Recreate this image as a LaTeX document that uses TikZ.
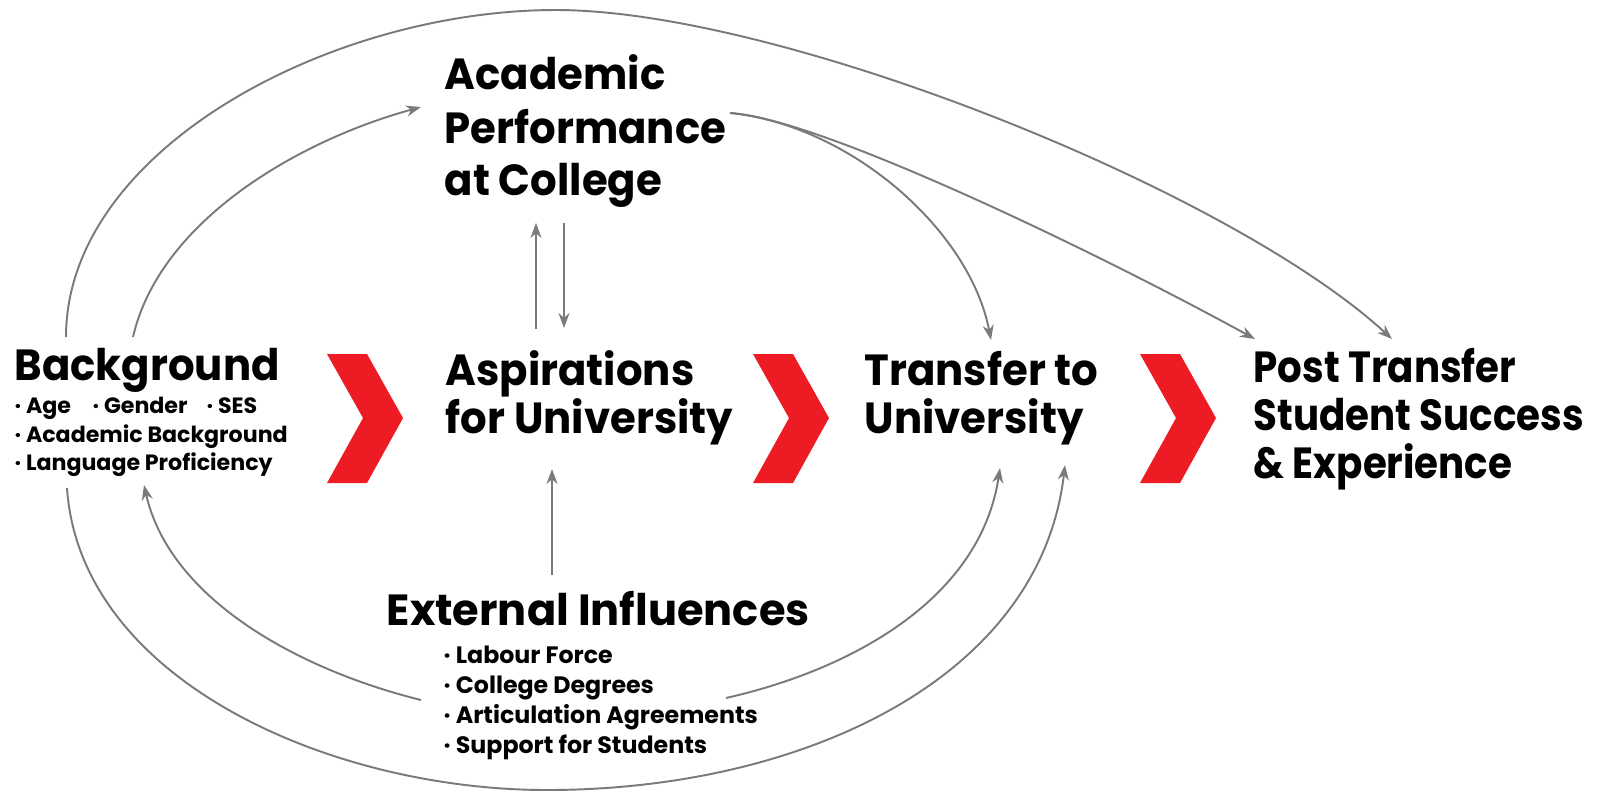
\documentclass[tikz,border=0pt]{standalone}
\usepackage{fontspec}
\setmainfont{Poppins}
\newfontfamily\titlefont{Poppins}[FakeStretch=0.96]
\newfontfamily\ptfont{Poppins}[FakeStretch=0.89]
\newfontfamily\extfont{Poppins}[FakeStretch=0.99]
\usetikzlibrary{arrows.meta}
\definecolor{chev}{HTML}{ED1C24}
\definecolor{conn}{HTML}{7A7A7A}
\begin{document}
\begin{tikzpicture}[x=0.1mm,y=-0.1mm,
  title/.style={anchor=base west,inner sep=0pt,font=\titlefont\bfseries\fontsize{12.4}{14}\selectfont},
  pttitle/.style={anchor=base west,inner sep=0pt,font=\ptfont\bfseries\fontsize{12.4}{14}\selectfont},
  exttitle/.style={anchor=base west,inner sep=0pt,font=\extfont\bfseries\fontsize{12.4}{14}\selectfont},
  item/.style={anchor=base west,inner sep=0pt,font=\bfseries\fontsize{6.3}{7.5}\selectfont},
  extitem/.style={anchor=base west,inner sep=0pt,font=\bfseries\fontsize{6.75}{8}\selectfont},
  link/.style={draw=conn,line width=0.55pt,-{Stealth[length=1.5mm,width=1.1mm]}},
  chevron/.style={fill=chev,draw=none}]
\useasboundingbox (0,0) rectangle (1600,792);

% chevrons
\foreach \dx/\nm in {0/c1,426/c2,813/c3}{
  \fill[chevron,shift={(\dx,0)}] (327,354) -- (367,354) -- (403,418) -- (367,483) -- (327,483) -- (363,418) -- cycle;
}

% Academic Performance at College
\node[title] (acad1) at (444,89) {Academic};
\node[title] (acad2) at (444,143) {Performance};
\node[title] (acad3) at (444,195) {at College};

% Background
\node[title] (bg) at (14,380) {Background};
\node[item] (bga) at (14,413) {· Age};
\node[item] (bgb) at (92,413) {· Gender};
\node[item] (bgc) at (206,413) {· SES};
\node[item] (bgd) at (14,442) {· Academic Background};
\node[item] (bge) at (14,470) {· Language Proficiency};

% Aspirations
\node[title] (asp1) at (445,385) {Aspirations};
\node[title] (asp2) at (445,433) {for University};

% Transfer
\node[title] (tr1) at (864,385) {Transfer to};
\node[title] (tr2) at (864,433) {University};

% Post transfer
\node[pttitle] (pt1) at (1253,382) {Post Transfer};
\node[pttitle] (pt2) at (1253,430) {Student Success};
\node[pttitle] (pt3) at (1253,478) {\& Experience};

% External influences
\node[exttitle] (ext) at (386,625) {External Influences};
\node[extitem] (exa) at (443,663) {· Labour Force};
\node[extitem] (exb) at (443,693) {· College Degrees};
\node[extitem] (exc) at (443,723) {· Articulation Agreements};
\node[extitem] (exd) at (443,753) {· Support for Students};

% connector ports
\coordinate (bgTL) at (66,337);
\coordinate (bgTR) at (133,337);
\coordinate (bgBL) at (67,488);
\coordinate (bgBR) at (144,485);
\coordinate (acL) at (421,107);
\coordinate (acR) at (730,113);
\coordinate (acB1) at (536,223);
\coordinate (acB2) at (564,223);
\coordinate (aspT1) at (536,329);
\coordinate (aspT2) at (564,328);
\coordinate (aspB) at (552,469);
\coordinate (extT) at (552,575);
\coordinate (extL) at (421,700);
\coordinate (extR) at (726,698);
\coordinate (trT) at (991,340);
\coordinate (trB1) at (1000,468);
\coordinate (trB2) at (1065,465);
\coordinate (ptT1) at (1255,339);
\coordinate (ptT2) at (1392,339);

% connectors
\draw[link] (bgTL) .. controls (66,150) and (330,10) .. (556,10)
                   .. controls (780,10) and (1230,190) .. (ptT2);
\draw[link] (bgTR) .. controls (160,220) and (300,140) .. (acL);
\draw[link] (acR) .. controls (850,125) and (970,230) .. (trT);
\draw[link] (acR) .. controls (820,118) and (1100,254) .. (ptT1);
\draw[link] (aspT1) -- (acB1);
\draw[link] (acB2) -- (aspT2);
\draw[link] (extT) -- (aspB);
\draw[link] (extL) .. controls (300,670) and (170,600) .. (bgBR);
\draw[link] (extR) .. controls (850,670) and (980,600) .. (trB1);
\draw[link] (bgBL) .. controls (80,680) and (330,790) .. (547,790)
                   .. controls (800,790) and (1040,680) .. (trB2);
\end{tikzpicture}
\end{document}
